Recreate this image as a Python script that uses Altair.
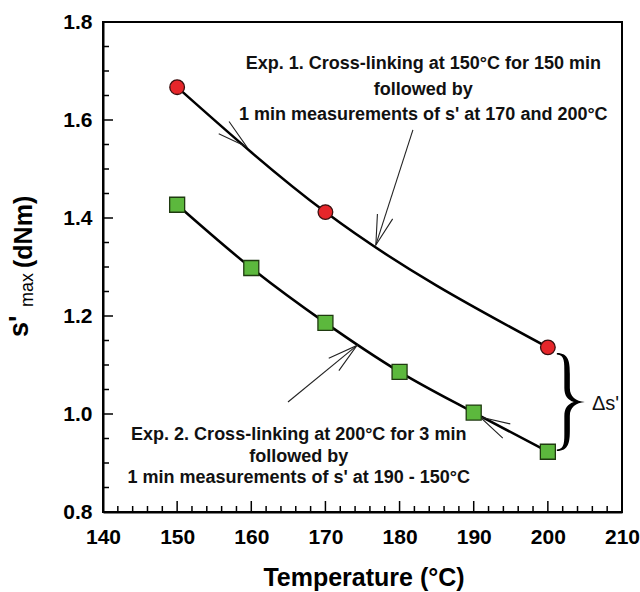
import math
import altair as alt
import pandas as pd

# ---------------- data ----------------
exp1_temp = [150, 170, 200]
exp1_s = [1.667, 1.412, 1.136]
exp2_temp = [150, 160, 170, 180, 190, 200]
exp2_s = [1.427, 1.298, 1.186, 1.086, 1.003, 0.923]

x_major = [140, 150, 160, 170, 180, 190, 200, 210]
x_minor = [142, 144, 146, 148, 152, 154, 156, 158, 162, 164, 166, 168, 172, 174,
           176, 178, 182, 184, 186, 188, 192, 194, 196, 198, 202, 204, 206, 208]
y_major = [0.8, 1.0, 1.2, 1.4, 1.6, 1.8]
y_minor = [0.85, 0.9, 0.95, 1.05, 1.1, 1.15, 1.25, 1.3, 1.35, 1.45, 1.5, 1.55,
           1.65, 1.7, 1.75]

exp1_note = ["Exp. 1. Cross-linking at 150°C for 150 min", "followed by",
             "1 min measurements of s' at 170 and 200°C"]
exp1_note_x = 183.2
exp1_note_y = [1.704, 1.652, 1.600]
exp2_note = ["Exp. 2. Cross-linking at 200°C for 3 min", "followed by",
             "1 min measurements of s' at 190 - 150°C"]
exp2_note_x = 166.4
exp2_note_y = [0.947, 0.902, 0.859]

arrow_start_x = [181.8, 164.95]
arrow_start_y = [1.580, 1.0245]
arrow_tip_x = [176.8, 174.26]
arrow_tip_y = [1.345, 1.140]

chevron_x = [159.4, 190.85]
chevron_y = [1.545, 0.994]

delta_label = "Δs'"
delta_x = 205.95
delta_y = 1.008
brace_x = 203.1
brace_y = 1.0245

x_title = "Temperature (°C)"

# ---------------- layout ----------------
W, H = 519, 490
X0, X1, Y0, Y1 = 140, 210, 0.8, 1.8
FONT = "Liberation Sans"


def screen_angle(dx, dy):
    # angle (clockwise from up) of a data-space direction on screen
    return math.degrees(math.atan2(dx * W / (X1 - X0), dy * H / (Y1 - Y0))) % 360


xs = alt.Scale(domain=[X0, X1], nice=False, zero=False)
ys = alt.Scale(domain=[Y0, Y1], nice=False, zero=False)
x_axis = alt.Axis(values=x_major, ticks=False, grid=False, title=None, format="d",
                  labelFont=FONT, labelFontSize=21, labelFontWeight="bold",
                  labelColor="black", labelPadding=14, domainColor="black",
                  domainWidth=2, labelFlush=False)
y_axis = alt.Axis(values=y_major, ticks=False, grid=False, title=None, format=".1f",
                  labelFont=FONT, labelFontSize=21, labelFontWeight="bold",
                  labelColor="black", labelPadding=11, domainColor="black",
                  domainWidth=2, labelFlush=False)


def X(f):
    return alt.X(f, type="quantitative", scale=xs, axis=x_axis)


def Y(f):
    return alt.Y(f, type="quantitative", scale=ys, axis=y_axis)


df1 = pd.DataFrame({"t": exp1_temp, "s": exp1_s})
df2 = pd.DataFrame({"t": exp2_temp, "s": exp2_s})

line1 = alt.Chart(df1).mark_line(interpolate="monotone", color="black", strokeWidth=2.5).encode(x=X("t"), y=Y("s"))
line2 = alt.Chart(df2).mark_line(interpolate="monotone", color="black", strokeWidth=2.5).encode(x=X("t"), y=Y("s"))
pts1 = alt.Chart(df1).mark_point(shape="circle", filled=True, fill="#e6262a", stroke="#3a1010",
                                 strokeWidth=1.3, size=215, opacity=1).encode(x=X("t"), y=Y("s"))
pts2 = alt.Chart(df2).mark_point(shape="square", filled=True, fill="#5cb83d", stroke="#1f3a10",
                                 strokeWidth=1.3, size=225, opacity=1).encode(x=X("t"), y=Y("s"))

# ticks (inside)
xt_major = alt.Chart(pd.DataFrame({"v": x_major})).mark_rule(color="black", strokeWidth=1.5).encode(
    x=X("v"), y=alt.value(H), y2=alt.value(H - 11))
xt_minor = alt.Chart(pd.DataFrame({"v": x_minor})).mark_rule(color="black", strokeWidth=1.5).encode(
    x=X("v"), y=alt.value(H), y2=alt.value(H - 6))
yt_major = alt.Chart(pd.DataFrame({"v": y_major})).mark_rule(color="black", strokeWidth=1.5).encode(
    y=Y("v"), x=alt.value(0), x2=alt.value(10))
yt_minor = alt.Chart(pd.DataFrame({"v": y_minor})).mark_rule(color="black", strokeWidth=1.5).encode(
    y=Y("v"), x=alt.value(0), x2=alt.value(6))

# annotation texts
notes = pd.DataFrame({
    "text": exp1_note + exp2_note,
    "x": [exp1_note_x] * 3 + [exp2_note_x] * 3,
    "y": exp1_note_y + exp2_note_y,
})
note_txt = alt.Chart(notes).mark_text(font=FONT, fontSize=18, fontWeight="bold", align="center",
                                      baseline="alphabetic", color="#111").encode(
    x=X("x"), y=Y("y"), text="text:N")

# arrows
arr = pd.DataFrame({"x": arrow_start_x, "y": arrow_start_y, "x2": arrow_tip_x, "y2": arrow_tip_y})
arr["ang"] = [screen_angle(b - a, d - c) for a, b, c, d in zip(arrow_start_x, arrow_tip_x, arrow_start_y, arrow_tip_y)]
shafts = alt.Chart(arr).mark_rule(color="#222", strokeWidth=1.1).encode(
    x=X("x"), y=Y("y"), x2="x2:Q", y2="y2:Q")

VHEAD = "M -8 30 L 0 0 L 8 30"
heads = alt.Chart(arr).mark_point(shape=VHEAD, size=4, filled=False, stroke="#222", strokeWidth=1.1,
                                  opacity=1).encode(
    x=X("x2"), y=Y("y2"), angle=alt.Angle("ang:Q", scale=None))

chev_dirs = [
    screen_angle(exp1_temp[1] - exp1_temp[0], exp1_s[1] - exp1_s[0]),
    screen_angle(exp2_temp[4] - exp2_temp[5], exp2_s[4] - exp2_s[5]),
]
chev = pd.DataFrame({"x": chevron_x, "y": chevron_y, "ang": chev_dirs})
chevrons = alt.Chart(chev).mark_point(shape=VHEAD, size=4, filled=False, stroke="#222", strokeWidth=1.1,
                                      opacity=1).encode(
    x=X("x"), y=Y("y"), angle=alt.Angle("ang:Q", scale=None))

# brace and delta label
BRACE = ("M -14 -49 C -2 -49 -1 -40 -1 -28 L -1 -14 C -1 -5 5 -1 14 0 "
         "C 5 1 -1 5 -1 14 L -1 28 C -1 40 -2 49 -14 49 L -14 47.5 "
         "C -6 47 -6.5 40 -6.5 28 L -6.5 14 C -6.5 6 -3 2 3 0 "
         "C -3 -2 -6.5 -6 -6.5 -14 L -6.5 -28 C -6.5 -40 -6 -47 -14 -47.5 Z")
brace = alt.Chart(pd.DataFrame({"x": [brace_x], "y": [brace_y]})).mark_point(
    shape=BRACE, size=4, filled=True, fill="black", strokeWidth=0, opacity=1).encode(x=X("x"), y=Y("y"))
delta = alt.Chart(pd.DataFrame({"x": [delta_x], "y": [delta_y], "t": [delta_label]})).mark_text(
    font=FONT, fontSize=20, align="left", baseline="alphabetic", color="#111").encode(
    x=X("x"), y=Y("y"), text="t:N")

# axis titles (drawn as text so the subscript can be set)
one = pd.DataFrame({"a": [0]})
xtitle = alt.Chart(one).mark_text(text=x_title, font=FONT, fontSize=25, fontWeight="bold",
                                  align="center", baseline="alphabetic", color="black").encode(
    x=alt.value(261), y=alt.value(564))
yt_s = alt.Chart(one).mark_text(text="s'", font=FONT, fontSize=27, fontWeight="bold", angle=270,
                                align="left", baseline="alphabetic", color="black").encode(
    x=alt.value(-75), y=alt.value(315))
yt_max = alt.Chart(one).mark_text(text="max", font=FONT, fontSize=18, angle=270,
                                  align="left", baseline="alphabetic", color="black").encode(
    x=alt.value(-70), y=alt.value(285))
yt_unit = alt.Chart(one).mark_text(text="(dNm)", font=FONT, fontSize=25, fontWeight="bold", angle=270,
                                   align="left", baseline="alphabetic", color="black").encode(
    x=alt.value(-71), y=alt.value(246))

chart = alt.layer(
    xt_major, xt_minor, yt_major, yt_minor,
    line1, line2, shafts, heads, chevrons, pts1, pts2,
    note_txt, brace, delta, xtitle, yt_s, yt_max, yt_unit,
).properties(
    width=W, height=H,
    padding={"left": 103, "top": 22, "right": 18, "bottom": 80},
    autosize=alt.AutoSizeParams(type="none"),
    background="white",
).configure_view(stroke="black", strokeWidth=2)

chart.save("out.html", embed_options={"renderer": "svg", "actions": False})
